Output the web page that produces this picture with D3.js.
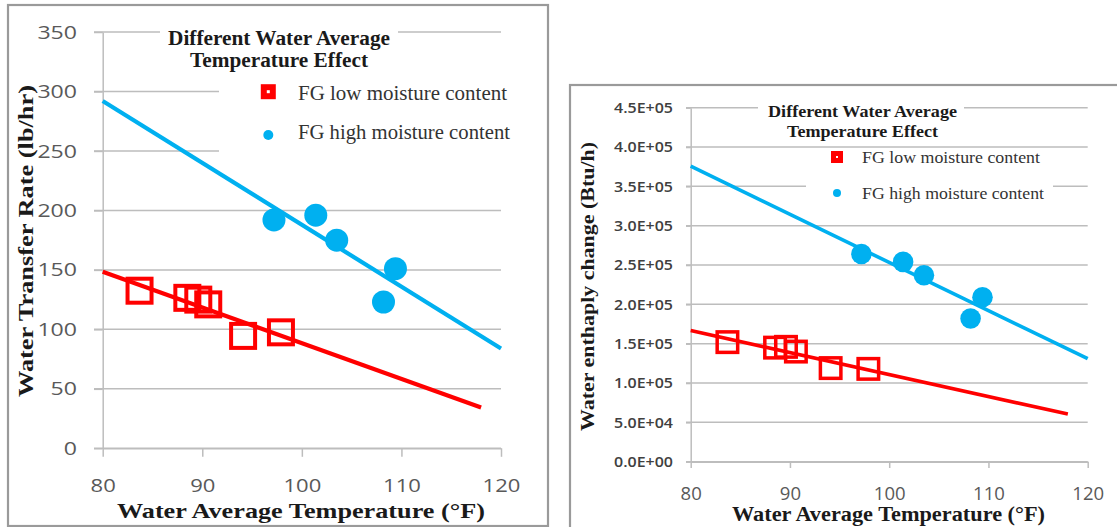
<!DOCTYPE html>
<html>
<head>
<meta charset="utf-8">
<script src="https://cdn.jsdelivr.net/npm/d3@7"></script>
<style>
  html, body { margin: 0; padding: 0; background: #fff; }
  svg { display: block; }
</style>
</head>
<body>
<svg id="chart" width="1117" height="527"></svg>
<script>
// Measurements: flue gas (FG) with low and high moisture content
const waterTempLow  = [83.7, 88.5, 89.6, 90.6, 94.1, 97.9];        // °F
const waterTempHigh = [97.2, 101.4, 103.5, 109.4, 108.2];          // °F
const transferRateLow  = [132.5, 126.5, 125, 121, 94.5, 97.5];     // lb/hr
const transferRateHigh = [192, 196, 175, 151, 123];                // lb/hr
const enthalpyLow  = [152000, 145000, 146000, 140000, 119000, 118000]; // Btu/h
const enthalpyHigh = [264000, 254000, 237000, 209000, 182000];         // Btu/h

// Temperature span covered by each fitted trend line (°F)
const trendSpanLow  = [80, 118];
const trendSpanHigh = [80, 120];

// Axis ticks
const tempTicks = [80, 90, 100, 110, 120];
const rateTicks = [0, 50, 100, 150, 200, 250, 300, 350];
const enthalpyTicks = [0, 50000, 100000, 150000, 200000, 250000, 300000, 350000, 400000, 450000];
const enthalpyTickLabels = ["0.0E+00", "5.0E+04", "1.0E+05", "1.5E+05", "2.0E+05",
                            "2.5E+05", "3.0E+05", "3.5E+05", "4.0E+05", "4.5E+05"];

// Text
const seriesNames = ["FG low moisture content", "FG high moisture content"];
const chartTitleLines = ["Different Water Average", "Temperature Effect"];
const xAxisTitle = "Water Average Temperature (°F)";
const yAxisTitles = ["Water Transfer Rate (lb/hr)", "Water enthaply change (Btu/h)"];

const RED = "#ff0000", BLUE = "#00b0f0", GRID = "#bdbdbd";
const SERIF = "'Liberation Serif', 'Times New Roman', serif";
const SANS = "'Open Sans', 'Liberation Sans', sans-serif";

// Least-squares line through the points
function linearFit(xs, ys) {
  const mx = d3.mean(xs), my = d3.mean(ys);
  let sxy = 0, sxx = 0;
  xs.forEach((x, i) => { sxy += (x - mx) * (ys[i] - my); sxx += (x - mx) * (x - mx); });
  const slope = sxy / sxx;
  return x => my + slope * (x - mx);
}

const panels = [
  {
    frame: [8, 5, 540, 521],
    xRange: [102.7, 501], yRange: [448.3, 32],
    yDomain: [0, 350], yTicks: rateTicks, yFormat: d => String(d),
    low: transferRateLow, high: transferRateHigh, yTitle: yAxisTitles[0],
    tickY: 8.7, tickX: 8.5,
    yLab: { off: 25.7, size: 19, charW: 13.2, fill: "#595959", weight: 400 },
    xLab: { dy: 37, size: 18, charW: 12.6, fill: "#595959" },
    xTitle: { cx: 301, y: 517.5, size: 21.5, len: 368 },
    yTitleP: { bx: 33, cy: 241, size: 21, len: 312 },
    title: { cx: 279, y: [45, 67], size: 20, len: [222, 178] },
    titleBox: [160, 22, 238, 48],
    legendBox: [219, 76, 290, 84],
    legend: { ix: 268.3, iy: [91.7, 135], tx: 298, ty: [100, 139], size: 21, len: [209, 212],
              sq: 9, sqStroke: 6, dotR: 5 },
    marker: { sq: 24, sqStroke: 4, r: 11.5 }, lineW: 4.2
  },
  {
    frame: [570, 85, 552, 450],
    xRange: [690.7, 1087.7], yRange: [461.7, 107.7],
    yDomain: [0, 450000], yTicks: enthalpyTicks, yFormat: d => enthalpyTickLabels[enthalpyTicks.indexOf(d)],
    low: enthalpyLow, high: enthalpyHigh, yTitle: yAxisTitles[1],
    tickY: 4.7, tickX: 6.3,
    yLab: { off: 17.7, size: 15, charW: 59 / 7, fill: "#404040", weight: 600 },
    xLab: { dy: 32.3, size: 17.5, charW: 10.6, fill: "#595959" },
    xTitle: { cx: 888.5, y: 521, size: 20, len: 313 },
    yTitleP: { bx: 594, cy: 286.5, size: 18.5, len: 289 },
    title: { cx: 862.5, y: [117, 137], size: 17, len: [189, 151] },
    titleBox: [758, 98, 206, 45],
    legendBox: [806, 150, 247, 62],
    legend: { ix: 837, iy: [157, 193], tx: 862, ty: [162.5, 198.5], size: 16.5, len: [178, 182],
              sq: 7, sqStroke: 5, dotR: 4 },
    marker: { sq: 20.5, sqStroke: 3.5, r: 10.3 }, lineW: 3.6
  }
];

const svg = d3.select("#chart");

panels.forEach(p => {
  const g = svg.append("g");
  const x = d3.scaleLinear().domain([80, 120]).range(p.xRange);
  const y = d3.scaleLinear().domain(p.yDomain).range(p.yRange);
  const [x0, x1] = p.xRange;

  // chart area border
  g.append("rect")
    .attr("x", p.frame[0]).attr("y", p.frame[1])
    .attr("width", p.frame[2]).attr("height", p.frame[3])
    .attr("fill", "#fff").attr("stroke", "#9a9a9a").attr("stroke-width", 2.2);

  // horizontal gridlines
  g.append("g").selectAll("line").data(p.yTicks).join("line")
    .attr("x1", x0 - p.tickY).attr("x2", x1)
    .attr("y1", d => y(d)).attr("y2", d => y(d))
    .attr("stroke", GRID).attr("stroke-width", 1.5);

  // white panels behind title and legend
  [p.titleBox, p.legendBox].forEach(b => {
    g.append("rect").attr("x", b[0]).attr("y", b[1])
      .attr("width", b[2]).attr("height", b[3]).attr("fill", "#fff");
  });

  // x axis
  const xAxis = g.append("g").attr("transform", `translate(0,${y(0)})`)
    .call(d3.axisBottom(x).tickValues(tempTicks).tickSize(p.tickX).tickSizeOuter(0));
  xAxis.select(".domain").attr("stroke", GRID).attr("stroke-width", 1.5);
  xAxis.selectAll(".tick line").attr("stroke", GRID).attr("stroke-width", 1.5);
  xAxis.selectAll(".tick text")
    .attr("y", p.xLab.dy).attr("dy", "0.36em")
    .attr("font-family", SANS).attr("font-size", p.xLab.size).attr("fill", p.xLab.fill)
    .attr("textLength", d => String(d).length * p.xLab.charW)
    .attr("lengthAdjust", "spacingAndGlyphs");

  // y axis
  const yAxis = g.append("g").attr("transform", `translate(${x0},0)`)
    .call(d3.axisLeft(y).tickValues(p.yTicks).tickFormat(p.yFormat)
      .tickSize(p.tickY).tickSizeOuter(0).tickPadding(p.yLab.off - p.tickY));
  yAxis.select(".domain").attr("stroke", GRID).attr("stroke-width", 1.5);
  yAxis.selectAll(".tick line").attr("stroke", GRID).attr("stroke-width", 1.5);
  yAxis.selectAll(".tick text")
    .attr("font-family", SANS).attr("font-size", p.yLab.size)
    .attr("font-weight", p.yLab.weight).attr("fill", p.yLab.fill)
    .attr("textLength", d => p.yFormat(d).length * p.yLab.charW)
    .attr("lengthAdjust", "spacingAndGlyphs");

  // fitted trend lines
  const fitLow = linearFit(waterTempLow, p.low);
  const fitHigh = linearFit(waterTempHigh, p.high);
  const line = d3.line().x(d => x(d[0])).y(d => y(d[1]));
  g.append("path").datum(trendSpanHigh.map(t => [t, fitHigh(t)]))
    .attr("d", line).attr("fill", "none").attr("stroke", BLUE).attr("stroke-width", p.lineW);
  g.append("path").datum(trendSpanLow.map(t => [t, fitLow(t)]))
    .attr("d", line).attr("fill", "none").attr("stroke", RED).attr("stroke-width", p.lineW);

  // high moisture points
  g.append("g").selectAll("circle").data(waterTempHigh.map((t, i) => [t, p.high[i]])).join("circle")
    .attr("cx", d => x(d[0])).attr("cy", d => y(d[1])).attr("r", p.marker.r)
    .attr("fill", BLUE);

  // low moisture points
  const s = p.marker.sq;
  g.append("g").selectAll("rect").data(waterTempLow.map((t, i) => [t, p.low[i]])).join("rect")
    .attr("x", d => x(d[0]) - s / 2).attr("y", d => y(d[1]) - s / 2)
    .attr("width", s).attr("height", s)
    .attr("fill", "none").attr("stroke", RED).attr("stroke-width", p.marker.sqStroke);

  // chart title
  chartTitleLines.forEach((t, i) => {
    g.append("text").text(t)
      .attr("x", p.title.cx).attr("y", p.title.y[i]).attr("text-anchor", "middle")
      .attr("font-family", SERIF).attr("font-weight", 700).attr("font-size", p.title.size)
      .attr("fill", "#1a1a1a")
      .attr("textLength", p.title.len[i]).attr("lengthAdjust", "spacingAndGlyphs");
  });

  // legend
  const L = p.legend;
  g.append("rect")
    .attr("x", L.ix - L.sq / 2).attr("y", L.iy[0] - L.sq / 2)
    .attr("width", L.sq).attr("height", L.sq)
    .attr("fill", "#fff").attr("stroke", RED).attr("stroke-width", L.sqStroke);
  g.append("circle").attr("cx", L.ix).attr("cy", L.iy[1]).attr("r", L.dotR).attr("fill", BLUE);
  seriesNames.forEach((n, i) => {
    g.append("text").text(n)
      .attr("x", L.tx).attr("y", L.ty[i])
      .attr("font-family", SERIF).attr("font-size", L.size).attr("fill", "#333")
      .attr("textLength", L.len[i]).attr("lengthAdjust", "spacingAndGlyphs");
  });

  // axis titles
  g.append("text").text(xAxisTitle)
    .attr("x", p.xTitle.cx).attr("y", p.xTitle.y).attr("text-anchor", "middle")
    .attr("font-family", SERIF).attr("font-weight", 700).attr("font-size", p.xTitle.size)
    .attr("fill", "#1a1a1a")
    .attr("textLength", p.xTitle.len).attr("lengthAdjust", "spacingAndGlyphs");
  g.append("text").text(p.yTitle)
    .attr("transform", `translate(${p.yTitleP.bx},${p.yTitleP.cy}) rotate(-90)`)
    .attr("text-anchor", "middle")
    .attr("font-family", SERIF).attr("font-weight", 700).attr("font-size", p.yTitleP.size)
    .attr("fill", "#1a1a1a")
    .attr("textLength", p.yTitleP.len).attr("lengthAdjust", "spacingAndGlyphs");
});
</script>
</body>
</html>
